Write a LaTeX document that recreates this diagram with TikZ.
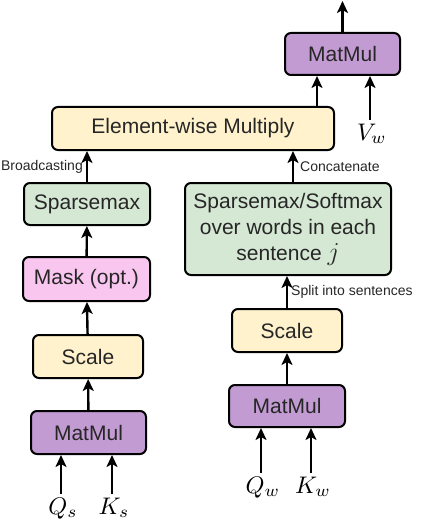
\documentclass[tikz,border=0pt]{standalone}
\usepackage{fontspec}
\setmainfont{Liberation Sans}
\usetikzlibrary{arrows.meta}
\definecolor{mmpurple}{HTML}{C39BD3}
\definecolor{scyellow}{HTML}{FFF2CC}
\definecolor{smgreen}{HTML}{D5E8D4}
\definecolor{mkpink}{HTML}{F8C6EE}
\tikzset{
  box/.style={draw=black, line width=2pt, rounded corners=6pt, inner sep=0pt,
    text=black!85, font=\fontsize{21}{26}\selectfont, align=center},
  arr/.style={line width=2.4pt, -{Stealth[length=12pt,width=11pt,inset=3pt]}},
  lbl/.style={inner sep=0pt, outer ysep=1.5pt, anchor=north, scale=2.4},
  note/.style={inner sep=3pt, text=black!85, font=\fontsize{14}{16}\selectfont}
}
\begin{document}
\begin{tikzpicture}[x=1pt,y=-1pt]
    \useasboundingbox (0,0) rectangle (420,524);

        % left column -- sentences
    \node[box, fill=mmpurple,  minimum width=115pt, minimum height=43pt] (mml)   at (88.5,432.5) {MatMul};
    \node[box, fill=scyellow,  minimum width=110pt, minimum height=43pt] (scl)   at (88,356.5)   {Scale};
    \node[box, fill=mkpink,    minimum width=127pt, minimum height=44pt] (mask)  at (86.5,279)   {Mask (opt.)};
    \node[box, fill=smgreen,   minimum width=126pt, minimum height=42pt] (spm)   at (87,204)     {Sparsemax};

        % right column -- words
    \node[box, fill=mmpurple,  minimum width=116pt, minimum height=42pt] (mmr)   at (287,406)    {MatMul};
    \node[box, fill=scyellow,  minimum width=110pt, minimum height=43pt] (scr)   at (287,330.5)  {Scale};
    \node[box, fill=smgreen,   minimum width=206pt, minimum height=92pt] (sws)   at (288,229)
        {Sparsemax/Softmax\\over words in each\\sentence \scalebox{1.25}{$j$}};

        % top
    \node[box, fill=scyellow,  minimum width=282pt, minimum height=43pt] (ewm)   at (193,128.5)  {Element-wise Multiply};
    \node[box, fill=mmpurple,  minimum width=115pt, minimum height=42pt] (mmt)   at (342.5,54)   {MatMul};
    \coordinate (out) at (342.5,1);

        % inputs
    \node[lbl] (qs) at (63,494)  {$Q_s$};
    \node[lbl] (ks) at (114,494) {$K_s$};
    \node[lbl] (qw) at (263,473) {$Q_w$};
    \node[lbl] (kw) at (313,473) {$K_w$};
    \node[lbl] (vw) at (372,120) {$V_w$};

    \draw[arr] ([xshift=-2pt]qs.north) -- ([xshift=-2pt]qs.north |- mml.south);
    \draw[arr] ([xshift=-2pt]ks.north) -- ([xshift=-2pt]ks.north |- mml.south);
    \draw[arr] (mml) -- (scl);
    \draw[arr] (scl) -- (mask);
    \draw[arr] (mask) -- (spm);
    \draw[arr] (spm.north) -- (spm.north |- ewm.south)
        node[midway, left, note] {Broadcasting};

    \draw[arr] ([xshift=-2pt]qw.north) -- ([xshift=-2pt]qw.north |- mmr.south);
    \draw[arr] ([xshift=-2pt]kw.north) -- ([xshift=-2pt]kw.north |- mmr.south);
    \draw[arr] (mmr) -- (scr);
    \draw[arr] (scr.north) -- (scr.north |- sws.south)
        node[midway, right, note] {Split into sentences};
    \draw[arr] ([xshift=5pt]sws.north) -- ([xshift=5pt]sws.north |- ewm.south)
        node[midway, right, note, xshift=3pt] {Concatenate};

    \draw[arr] ([xshift=-25.5pt]mmt.south |- ewm.north) -- ([xshift=-25.5pt]mmt.south);
    \draw[arr] ([xshift=-2pt]vw.north) -- ([xshift=-2pt]vw.north |- mmt.south);
    \draw[arr] (mmt) -- (out);
\end{tikzpicture}
\end{document}
